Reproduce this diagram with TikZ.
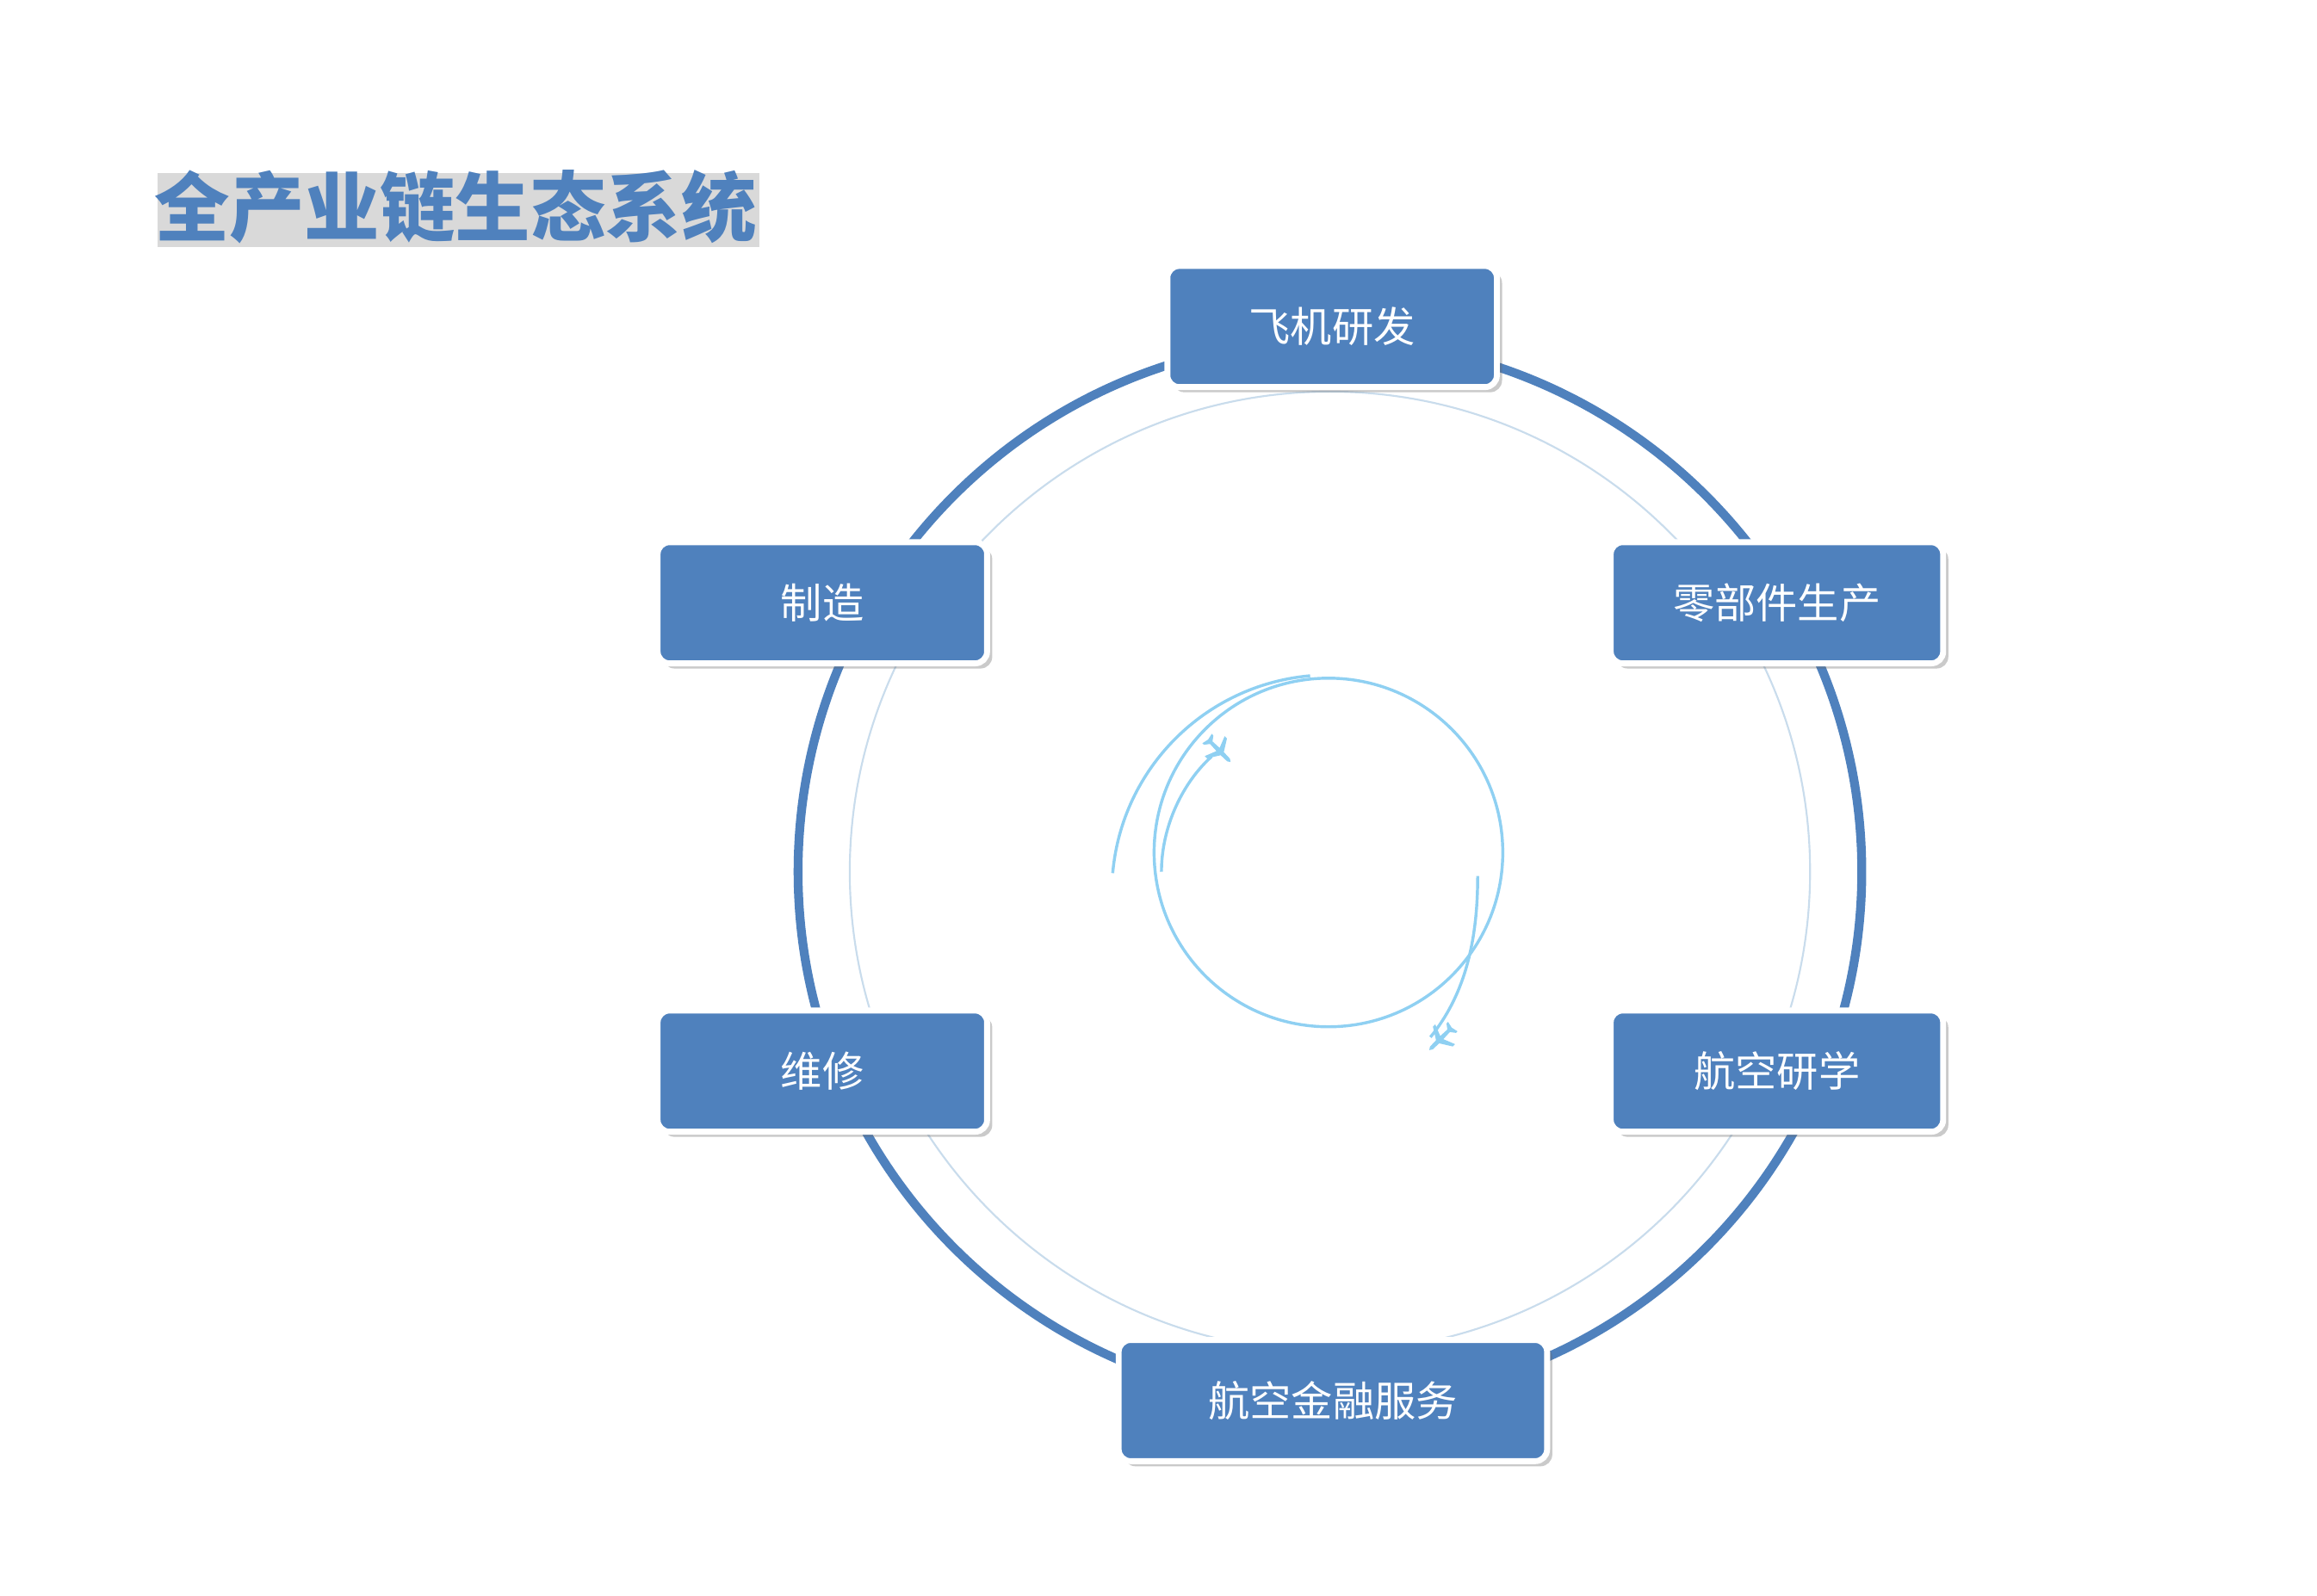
\documentclass[tikz,border=0pt]{standalone}
\usepackage{fontspec}
\newfontfamily\cjk{Noto Sans CJK SC}
\usetikzlibrary{shadows}
\definecolor{mainblue}{HTML}{4F81BD}
\definecolor{ltblue}{HTML}{8FD0F2}
\definecolor{thinring}{HTML}{C9DCEC}
\tikzset{
 px/.style={x=0.02cm,y=-0.02cm},
 stagebox/.style={draw=white,line width=0.08cm,fill=mainblue,rounded corners=0.16cm,
   minimum height=1.64cm,text=white,font=\cjk\fontsize{16}{18}\selectfont,
   drop shadow={shadow xshift=0.07cm,shadow yshift=-0.07cm,opacity=0.35,fill=black!60}},
 planeshape/.pic={\fill[ltblue] (11,0) -- (9,1.3) -- (3,1.5) -- (-2,9.5) -- (-4.2,9.5) -- (-1,1.5) -- (-7.5,1.2) -- (-10,4.5) -- (-11.5,4.5) -- (-10.5,0)
   -- (-11.5,-4.5) -- (-10,-4.5) -- (-7.5,-1.2) -- (-1,-1.5) -- (-4.2,-9.5) -- (-2,-9.5) -- (3,-1.5) -- (9,-1.3) -- cycle;}
}
\begin{document}
\begin{tikzpicture}[px]
\useasboundingbox (0,0) rectangle (1568,1080);
\node[anchor=west,text=mainblue,font=\cjk\bfseries\fontsize{29}{32}\selectfont,
  drop shadow={shadow xshift=0.04cm,shadow yshift=-0.04cm,opacity=0.3,fill=black!50},inner sep=0] (title) at (104,140) {全产业链生态系统};
\coordinate (c) at (900,590);
\draw[mainblue,line width=0.12cm] (c) circle[radius=7.2cm];
\draw[thinring,line width=0.025cm] (c) circle[radius=6.5cm];
% inner spiral
\coordinate (s) at (899,577);
\draw[ltblue,line width=0.04cm] (s) circle[radius=2.36cm];
\draw[ltblue,line width=0.04cm] (753,591) arc[start angle=175,end angle=95,radius=2.94cm];
\draw[ltblue,line width=0.04cm] (1000,593) .. controls (1000,640) and (990,675) .. (968,702);
\draw[ltblue,line width=0.04cm] (786,590) .. controls (786,560) and (800,530) .. (820,512);
\pic[rotate=-45,scale=1.0] at (825,508) {planeshape};
\pic[rotate=-135+360,scale=1.0] at (975,703) {planeshape};
% boxes
\node[stagebox,minimum width=4.46cm] (b1) at (901.5,221) {飞机研发};
\node[stagebox,minimum width=4.46cm] (b2) at (556.5,408) {制造};
\node[stagebox,minimum width=4.5cm] (b3) at (1202.5,408) {零部件生产};
\node[stagebox,minimum width=4.46cm] (b4) at (556.5,725) {维修};
\node[stagebox,minimum width=4.5cm] (b5) at (1202.5,725) {航空研学};
\node[stagebox,minimum width=5.8cm] (b6) at (902,948) {航空金融服务};
\end{tikzpicture}
\end{document}
